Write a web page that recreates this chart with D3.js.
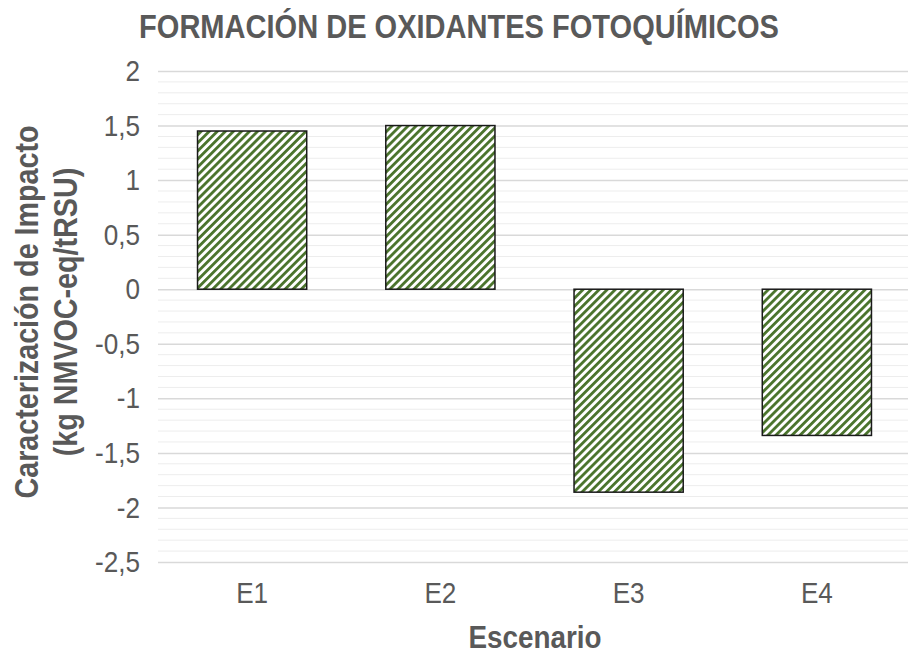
<!DOCTYPE html>
<html>
<head>
<meta charset="utf-8">
<script src="https://cdn.jsdelivr.net/npm/d3@7"></script>
<style>
  body { margin: 0; background: #fff; }
  text { font-family: "Liberation Sans", Arial, sans-serif; fill: #595959; }
</style>
</head>
<body>
<div id="chart"></div>
<script>
// data
var escenarios = ["E1", "E2", "E3", "E4"];
var valores = [1.45, 1.50, -1.86, -1.34];
var yTicks = [2, 1.5, 1, 0.5, 0, -0.5, -1, -1.5, -2, -2.5];

var svgWidth = 908;
var svgHeight = 657;

// text is squeezed horizontally to look like a narrow font
var narrow = 0.87;

var plot = { left: 158, right: 911, top: 71, bottom: 562 };

var svg = d3.select("#chart")
  .append("svg")
  .attr("width", svgWidth)
  .attr("height", svgHeight);

// hatch pattern for the bars
var defs = svg.append("defs");
var pat = defs.append("pattern")
  .attr("id", "hatch")
  .attr("patternUnits", "userSpaceOnUse")
  .attr("width", 5.7)
  .attr("height", 5.7)
  .attr("patternTransform", "rotate(45)");
pat.append("rect")
  .attr("width", 5.7).attr("height", 5.7).attr("fill", "#fff");
pat.append("rect")
  .attr("width", 2.8).attr("height", 5.7).attr("fill", "#4a732c");

// scales
var x = d3.scaleBand()
  .domain(escenarios)
  .range([plot.left, plot.right])
  .paddingInner(0.42)
  .paddingOuter(0.21);

var y = d3.scaleLinear()
  .domain([-2.5, 2])
  .range([plot.bottom, plot.top]);

// minor gridlines every 0.1
var minor = d3.range(-25, 21).map(function(d) { return d / 10; })
  .filter(function(d) { return Math.abs(d * 2 - Math.round(d * 2)) > 1e-6; });

svg.append("g").selectAll("line")
  .data(minor)
  .enter()
  .append("line")
  .attr("x1", plot.left).attr("x2", plot.right)
  .attr("y1", function(d) { return y(d); })
  .attr("y2", function(d) { return y(d); })
  .attr("stroke", "#ededed")
  .attr("stroke-width", 1);

// major gridlines + y axis
var yAxis = d3.axisLeft(y)
  .tickValues(yTicks)
  .tickSize(-(plot.right - plot.left))
  .tickPadding(18 / narrow)
  .tickFormat(function(d) { return String(d).replace(".", ","); });

var gy = svg.append("g")
  .attr("transform", "translate(" + plot.left + ",0)")
  .call(yAxis);
gy.select(".domain").remove();
gy.selectAll(".tick line").attr("stroke", "#d9d9d9").attr("stroke-width", 1.5);
gy.selectAll(".tick text")
  .attr("font-size", "30px")
  .attr("transform", "scale(" + narrow + ",1)")
  .style("font-family", "'Liberation Sans', Arial, sans-serif")
  .attr("fill", "#595959");

// bars
svg.append("g").selectAll("rect")
  .data(valores)
  .enter()
  .append("rect")
  .attr("x", function(d, i) { return x(escenarios[i]); })
  .attr("width", x.bandwidth())
  .attr("y", function(d) { return y(Math.max(0, d)); })
  .attr("height", function(d) { return Math.abs(y(d) - y(0)); })
  .attr("fill", "url(#hatch)")
  .attr("stroke", "#1a1a1a")
  .attr("stroke-width", 1.5);

// x axis labels
var xAxis = d3.axisBottom(x).tickSize(0).tickPadding(20);
var gx = svg.append("g")
  .attr("transform", "translate(0," + plot.bottom + ")")
  .call(xAxis);
gx.select(".domain").remove();
gx.selectAll(".tick text")
  .attr("font-size", "30px")
  .attr("transform", "scale(" + narrow + ",1)")
  .style("font-family", "'Liberation Sans', Arial, sans-serif")
  .attr("fill", "#595959");

// title
svg.append("text")
  .attr("transform", "translate(459,38) scale(0.88,1)")
  .attr("text-anchor", "middle")
  .attr("font-size", "33px")
  .attr("font-weight", "bold")
  .text("FORMACIÓN DE OXIDANTES FOTOQUÍMICOS");

// axis titles
svg.append("text")
  .attr("transform", "translate(535,648) scale(" + narrow + ",1)")
  .attr("text-anchor", "middle")
  .attr("font-size", "32px")
  .attr("font-weight", "bold")
  .text("Escenario");

var yl = svg.append("text")
  .attr("transform", "translate(38,312) rotate(-90) scale(" + narrow + ",1)")
  .attr("text-anchor", "middle")
  .attr("font-size", "33px")
  .attr("font-weight", "bold");
yl.append("tspan").attr("x", 0).attr("y", 0).text("Caracterización de Impacto");
yl.append("tspan").attr("x", 0).attr("y", 39).text("(kg NMVOC-eq/tRSU)");
</script>
</body>
</html>
